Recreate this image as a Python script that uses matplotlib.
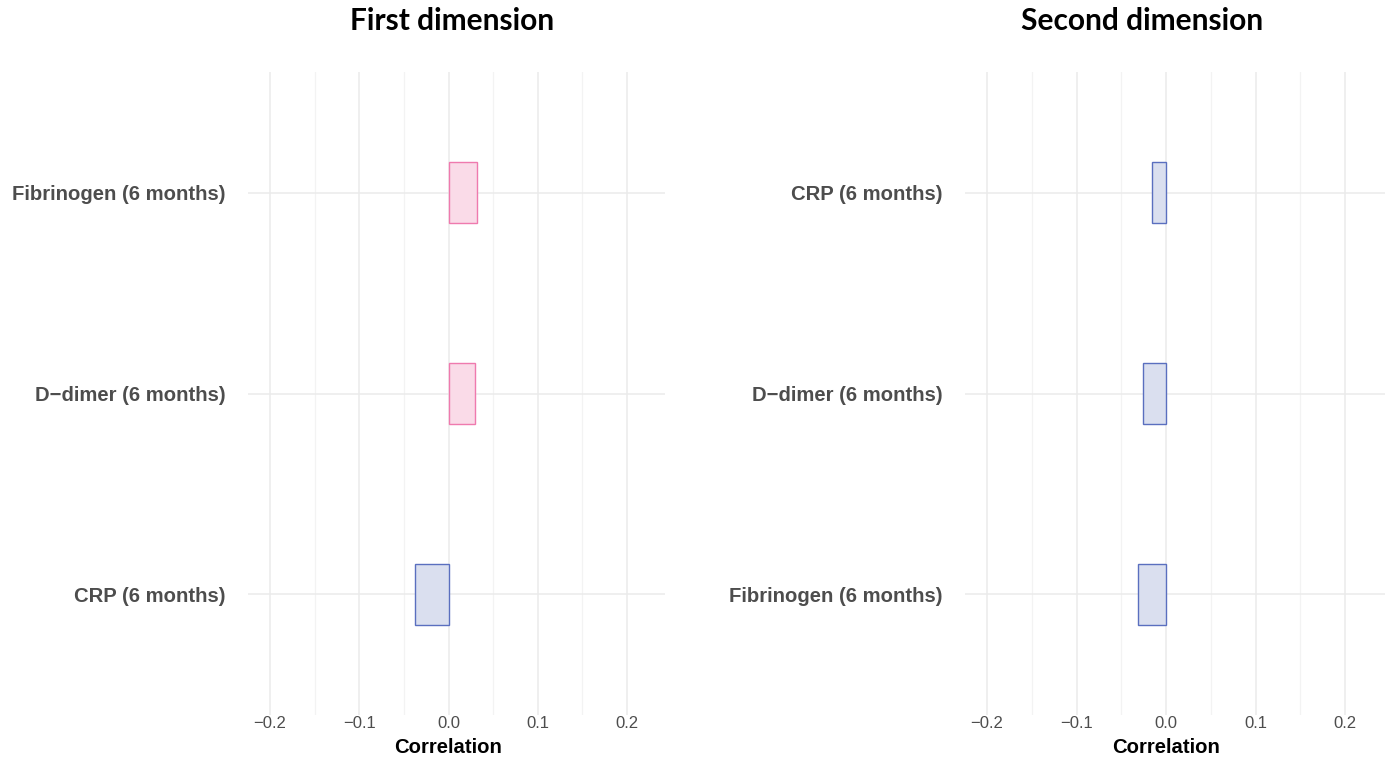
import matplotlib
matplotlib.use("Agg")
import matplotlib.pyplot as plt
from matplotlib.ticker import MultipleLocator

# first dimension (bottom to top)
labels_1 = ["CRP (6 months)", "D\u2212dimer (6 months)", "Fibrinogen (6 months)"]
values_1 = [-0.037, 0.030, 0.032]

# second dimension (bottom to top)
labels_2 = ["Fibrinogen (6 months)", "D\u2212dimer (6 months)", "CRP (6 months)"]
values_2 = [-0.031, -0.026, -0.016]

titles = ["First dimension", "Second dimension"]
ticks = [-0.2, -0.1, 0.0, 0.1, 0.2]

pos_fill, pos_edge = "#fadbe8", "#ef7aae"
neg_fill, neg_edge = "#dadfef", "#5a6fbf"

plt.rcParams['font.family'] = ['Liberation Sans', 'DejaVu Sans']

fig = plt.figure(figsize=(13.91, 7.65), dpi=100)
ax1 = fig.add_axes([248/1391, 1-715/765, 417/1391, 643/765])
ax2 = fig.add_axes([965/1391, 1-715/765, 420/1391, 643/765])

def panel(ax, labels, values, title, xlim, cx):
    ypos = list(range(1, len(labels) + 1))
    fills = [pos_fill if v > 0 else neg_fill for v in values]
    edges = [pos_edge if v > 0 else neg_edge for v in values]
    ax.barh(ypos, values, height=0.3, color=fills, edgecolor=edges,
            linewidth=1.0, zorder=3)
    ax.set_xlim(*xlim)
    ax.set_ylim(0.4, 3.6)
    ax.set_xticks(ticks)
    ax.set_xticklabels(["\u22120.2", "\u22120.1", "0.0", "0.1", "0.2"])
    ax.xaxis.set_minor_locator(MultipleLocator(0.05))
    ax.set_yticks(ypos)
    ax.set_yticklabels(labels, fontsize=14.6, fontweight='bold', color="#4d4d4d")
    ax.tick_params(axis='x', labelsize=12, colors="#4d4d4d", length=0, pad=1)
    ax.tick_params(axis='y', length=0, pad=16)
    ax.tick_params(which='minor', length=0)
    ax.grid(which='major', color="#ebebeb", linewidth=1.1, zorder=0)
    ax.grid(which='minor', axis='x', color="#f3f3f3", linewidth=0.9, zorder=0)
    for s in ax.spines.values():
        s.set_visible(False)
    ax.set_xlabel("Correlation", fontsize=14.6, fontweight='bold', labelpad=1)
    # label centred on zero, as in the original
    ax.xaxis.set_label_coords((0 - xlim[0]) / (xlim[1] - xlim[0]), -0.035)
    fig.text(cx/1391, 1-21/765, title, ha='center', va='center',
             fontsize=21.5, fontweight='bold', family=['Lato', 'DejaVu Sans'])

panel(ax1, labels_1, values_1, titles[0], (-0.2247, 0.2426), 452)
panel(ax2, labels_2, values_2, titles[1], (-0.2246, 0.2447), 1142)

fig.savefig("out.png", dpi=100, facecolor="white")
